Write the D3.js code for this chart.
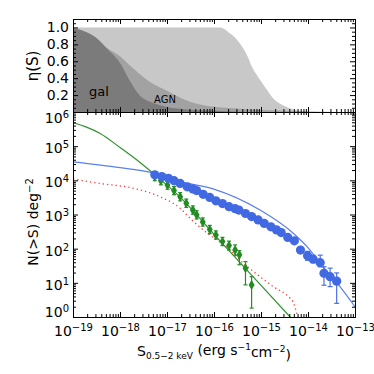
<!DOCTYPE html>
<html lang="en">
<head>
<meta charset="UTF-8">
<title>eta(S) and N(>S)</title>
<script src="https://d3js.org/d3.v7.min.js"></script>
<style>
    body, html { margin: 0; padding: 0; background: #fff; }
    svg { display: block; font-family: "DejaVu Sans", sans-serif; }
    .axis path, .axis line { stroke: #000; stroke-width: 1; }
    .axis text { font-size: 14px; fill: #000; font-family: "DejaVu Sans", sans-serif; }
</style>
</head>
<body>
<div id="chart"></div>
<script>
    // top panel: eta(S) fractions, x is log10 S
    const lightLogS = [-19.0, -15.87, -15.66, -15.45, -15.27, -15.20, -15.16, -15.02, -14.87, -14.74, -14.53, -14.24, -13.96];
    const lightEta  = [1.0, 1.0, 0.93, 0.81, 0.64, 0.54, 0.50, 0.38, 0.26, 0.16, 0.08, 0.02, 0.0];
    const agnLogS = [-19.0, -18.74, -18.49, -18.28, -18.0, -17.79, -17.4, -17.0, -16.72, -16.3, -15.6, -14.81, -14.17, -13.32];
    const agnEta  = [0.99, 0.95, 0.87, 0.76, 0.66, 0.55, 0.37, 0.25, 0.17, 0.09, 0.045, 0.02, 0.008, 0.0];
    const galLogS = [-19.0, -18.74, -18.49, -18.28, -18.0, -17.79, -17.57, -17.36, -17.0, -16.57, -16.02, -15.23];
    const galEta  = [0.99, 0.95, 0.87, 0.75, 0.58, 0.37, 0.19, 0.12, 0.06, 0.03, 0.015, 0.0];

    // bottom panel: log10 S vs log10 N(>S)
    const blueLogS = [-17.26, -17.11, -16.97, -16.85, -16.72, -16.57, -16.45, -16.37, -16.23, -16.09, -15.96,
                      -15.82, -15.68, -15.55, -15.47, -15.33, -15.20, -15.06, -14.93, -14.79, -14.67, -14.57,
                      -14.43, -14.29, -14.16, -14.01, -13.89, -13.74, -13.66, -13.53, -13.39];
    const blueLogN = [4.16, 4.11, 4.06, 3.99, 3.91, 3.81, 3.75, 3.70, 3.59, 3.50, 3.40,
                      3.32, 3.23, 3.17, 3.13, 3.03, 2.94, 2.84, 2.74, 2.64, 2.55, 2.47,
                      2.33, 2.23, 1.96, 1.79, 1.69, 1.59, 1.28, 1.18, 1.05];
    const blueErrLo = [0.02, 0.02, 0.02, 0.02, 0.02, 0.02, 0.02, 0.02, 0.02, 0.02, 0.02,
                       0.02, 0.02, 0.02, 0.02, 0.02, 0.02, 0.02, 0.02, 0.02, 0.02, 0.02,
                       0.02, 0.02, 0.09, 0.13, 0.10, 0.12, 0.35, 0.29, 0.65];
    const blueErrHi = [0.02, 0.02, 0.02, 0.02, 0.02, 0.02, 0.02, 0.02, 0.02, 0.02, 0.02,
                       0.02, 0.02, 0.02, 0.02, 0.02, 0.02, 0.02, 0.02, 0.02, 0.02, 0.02,
                       0.02, 0.02, 0.09, 0.13, 0.12, 0.22, 0.19, 0.25, 0.24];

    const greenLogS = [-17.26, -17.13, -16.99, -16.85, -16.72, -16.59, -16.45, -16.37, -16.24, -16.09, -15.96,
                       -15.82, -15.68, -15.55, -15.46, -15.33, -15.20];
    const greenLogN = [4.11, 3.99, 3.86, 3.70, 3.52, 3.33, 3.13, 2.99, 2.78, 2.56, 2.40,
                       2.21, 2.09, 1.96, 1.82, 1.43, 0.94];
    const greenErrLo = [0.12, 0.12, 0.12, 0.12, 0.12, 0.12, 0.12, 0.12, 0.12, 0.12, 0.12,
                        0.12, 0.13, 0.15, 0.29, 0.49, 0.68];
    const greenErrHi = [0.12, 0.12, 0.12, 0.12, 0.12, 0.12, 0.12, 0.12, 0.12, 0.12, 0.12,
                        0.12, 0.13, 0.15, 0.12, 0.19, 0.24];

    // model curves
    const blueModelLogS = [-19.0, -18.0, -17.3, -16.72, -16.02, -15.02, -14.32, -14.02, -13.68, -13.32, -13.0];
    const blueModelLogN = [4.54, 4.37, 4.22, 3.96, 3.75, 3.13, 2.46, 2.06, 1.47, 0.89, 0.30];
    const greenModelLogS = [-19.0, -18.7, -18.43, -18.0, -17.6, -17.3, -16.72, -16.0, -14.38, -14.0];
    const greenModelLogN = [5.69, 5.55, 5.38, 4.96, 4.55, 4.21, 3.51, 2.42, 0.0, -0.57];
    const redModelLogS = [-19.0, -18.43, -17.72, -17.15, -16.72, -16.51, -16.23, -15.94, -15.66, -15.45,
                          -15.02, -14.74, -14.38, -14.32, -14.24, -14.20];
    const redModelLogN = [4.04, 3.91, 3.77, 3.52, 3.18, 2.89, 2.55, 2.25, 1.96, 1.67,
                          1.18, 0.89, 0.55, 0.45, 0.11, -0.1];

    const W = 374, H = 374;
    const left = 73, right = 355, topTop = 19, topBot = 112, botBot = 317;

    const svg = d3.select("#chart").append("svg")
        .attr("width", W)
        .attr("height", H);

    const x = d3.scaleLog().domain([1e-19, 1e-13]).range([left, right]);
    const yEta = d3.scaleLinear().domain([0, 1.1]).range([topBot, topTop]);
    const yN = d3.scaleLog().domain([1, 1e6]).range([botBot, topBot]);

    const isDecade = d => Math.abs(Math.log10(d) - Math.round(Math.log10(d))) < 1e-6;
    const xMajor = x.ticks().filter(isDecade), xMinor = x.ticks().filter(d => !isDecade(d));
    const nMajor = yN.ticks().filter(isDecade), nMinor = yN.ticks().filter(d => !isDecade(d));
    const etaMajor = [0, 0.2, 0.4, 0.6, 0.8, 1.0];
    const etaMinor = d3.range(0, 1.1, 0.05).filter(v => Math.abs(v * 5 - Math.round(v * 5)) > 1e-6);

    const defs = svg.append("defs");
    defs.append("clipPath").attr("id", "clipTop").append("rect")
        .attr("x", left).attr("y", topTop).attr("width", right - left).attr("height", topBot - topTop);
    defs.append("clipPath").attr("id", "clipBot").append("rect")
        .attr("x", left).attr("y", topBot).attr("width", right - left).attr("height", botBot - topBot);

    // ---------- top panel: shaded fractions
    const area = d3.area()
        .x(d => x(Math.pow(10, d[0])))
        .y0(yEta(0))
        .y1(d => yEta(d[1]))
        .curve(d3.curveMonotoneX);
    const topG = svg.append("g").attr("clip-path", "url(#clipTop)");
    topG.append("path").datum(d3.zip(lightLogS, lightEta)).attr("d", area).attr("fill", "#c8c8c8");
    topG.append("path").datum(d3.zip(agnLogS, agnEta)).attr("d", area).attr("fill", "#a2a2a2");
    topG.append("path").datum(d3.zip(galLogS, galEta)).attr("d", area).attr("fill", "#7b7b7b");

    svg.append("text").attr("x", 89).attr("y", 96).attr("font-size", 13).text("gal");
    svg.append("text").attr("x", 154).attr("y", 103).attr("font-size", 10).text("AGN");

    // ---------- bottom panel: curves and points
    const line = d3.line()
        .x(d => x(Math.pow(10, d[0])))
        .y(d => yN(Math.pow(10, d[1])))
        .curve(d3.curveMonotoneX);
    const botG = svg.append("g").attr("clip-path", "url(#clipBot)");

    botG.append("path").datum(d3.zip(redModelLogS, redModelLogN)).attr("d", line)
        .attr("fill", "none").attr("stroke", "#ff3b3b").attr("stroke-width", 1.3)
        .attr("stroke-dasharray", "1.3,3");
    botG.append("path").datum(d3.zip(greenModelLogS, greenModelLogN)).attr("d", line)
        .attr("fill", "none").attr("stroke", "#2f922f").attr("stroke-width", 1.2);
    botG.append("path").datum(d3.zip(blueModelLogS, blueModelLogN)).attr("d", line)
        .attr("fill", "none").attr("stroke", "#5a7ff0").attr("stroke-width", 1.2);

    function errorBars(g, ls, ln, lo, hi, color, cap) {
        const pts = ls.map((s, i) => ({ s: s, n: ln[i], lo: lo[i], hi: hi[i] }));
        const eg = g.append("g").attr("stroke", color).attr("stroke-width", 1.2);
        pts.forEach(p => {
            const px = x(Math.pow(10, p.s));
            const y0 = yN(Math.pow(10, p.n - p.lo)), y1 = yN(Math.pow(10, p.n + p.hi));
            eg.append("line").attr("x1", px).attr("x2", px).attr("y1", y0).attr("y2", y1);
            eg.append("line").attr("x1", px - cap).attr("x2", px + cap).attr("y1", y0).attr("y2", y0);
            eg.append("line").attr("x1", px - cap).attr("x2", px + cap).attr("y1", y1).attr("y2", y1);
        });
        return pts;
    }

    const greenPts = errorBars(botG, greenLogS, greenLogN, greenErrLo, greenErrHi, "#2a8a2a", 2);
    botG.selectAll(".gpt").data(greenPts).enter().append("path")
        .attr("class", "gpt")
        .attr("transform", d => `translate(${x(Math.pow(10, d.s))},${yN(Math.pow(10, d.n))})`)
        .attr("d", d3.symbol().type(d3.symbolDiamond).size(30))
        .attr("fill", "#228b22");

    const bluePts = errorBars(botG, blueLogS, blueLogN, blueErrLo, blueErrHi, "#4a6fe3", 2.5);
    botG.selectAll(".bpt").data(bluePts).enter().append("circle")
        .attr("class", "bpt")
        .attr("cx", d => x(Math.pow(10, d.s)))
        .attr("cy", d => yN(Math.pow(10, d.n)))
        .attr("r", 4.6)
        .attr("fill", "#4169e1");

    // ---------- axes
    function addAxis(axisFn, scale, tr, values, size, fmt) {
        return svg.append("g").attr("class", "axis").attr("transform", tr)
            .call(axisFn(scale).tickValues(values).tickSize(size).tickSizeOuter(0)
                .tickPadding(4).tickFormat(fmt || (() => "")));
    }
    function powLabel(sel, supSize) {
        sel.selectAll("text").each(function(d) {
            const t = d3.select(this);
            t.text(null);
            t.append("tspan").text("10");
            t.append("tspan").attr("dy", "-0.5em").attr("font-size", supSize)
                .text(String(Math.round(Math.log10(d))).replace("-", "\u2212"));
        });
    }

    // top panel
    addAxis(d3.axisLeft, yEta, `translate(${left},0)`, etaMinor, -3);
    addAxis(d3.axisLeft, yEta, `translate(${left},0)`, etaMajor, -5, d => d === 0 ? "" : d3.format(".1f")(d));
    addAxis(d3.axisRight, yEta, `translate(${right},0)`, etaMinor, -3);
    addAxis(d3.axisRight, yEta, `translate(${right},0)`, etaMajor, -5);
    addAxis(d3.axisTop, x, `translate(0,${topTop})`, xMinor, -3);
    addAxis(d3.axisTop, x, `translate(0,${topTop})`, xMajor, -5);
    addAxis(d3.axisBottom, x, `translate(0,${topBot})`, xMinor, -3);
    addAxis(d3.axisBottom, x, `translate(0,${topBot})`, xMajor, -5);

    // bottom panel
    addAxis(d3.axisTop, x, `translate(0,${topBot})`, xMinor, -3);
    addAxis(d3.axisTop, x, `translate(0,${topBot})`, xMajor, -5);
    addAxis(d3.axisBottom, x, `translate(0,${botBot})`, xMinor, -3);
    const xb = addAxis(d3.axisBottom, x, `translate(0,${botBot})`, xMajor, -5, d => d);
    xb.selectAll("text").attr("y", 9);
    powLabel(xb, "10px");
    addAxis(d3.axisRight, yN, `translate(${right},0)`, nMinor, -3);
    addAxis(d3.axisRight, yN, `translate(${right},0)`, nMajor, -5);
    addAxis(d3.axisLeft, yN, `translate(${left},0)`, nMinor, -3);
    const yl = addAxis(d3.axisLeft, yN, `translate(${left},0)`, nMajor, -5, d => d);
    yl.selectAll("text").attr("y", d => Math.min(Math.max(yN(d) + 2, 118), 312) - yN(d));
    powLabel(yl, "10px");

    // axis titles
    svg.append("text")
        .attr("transform", "translate(38,66) rotate(-90)")
        .attr("text-anchor", "middle").attr("font-size", 15)
        .text("\u03b7(S)");

    const yt = svg.append("text")
        .attr("transform", "translate(38,222) rotate(-90)")
        .attr("text-anchor", "middle").attr("font-size", 14);
    yt.append("tspan").text("N(>S)  deg");
    yt.append("tspan").attr("dy", "-0.55em").attr("font-size", 10).text("\u22122");

    const xt = svg.append("text")
        .attr("x", (left + right) / 2).attr("y", 356)
        .attr("text-anchor", "middle").attr("font-size", 14);
    xt.append("tspan").text("S");
    xt.append("tspan").attr("dy", "0.3em").attr("font-size", 9).text("0.5\u22122 keV");
    xt.append("tspan").attr("dy", "-0.3em").text(" (erg s");
    xt.append("tspan").attr("dy", "-0.55em").attr("font-size", 9).text("\u22121");
    xt.append("tspan").attr("dy", "0.55em").text("cm");
    xt.append("tspan").attr("dy", "-0.55em").attr("font-size", 9).text("\u22122");
    xt.append("tspan").attr("dy", "0.55em").text(")");
</script>
</body>
</html>
